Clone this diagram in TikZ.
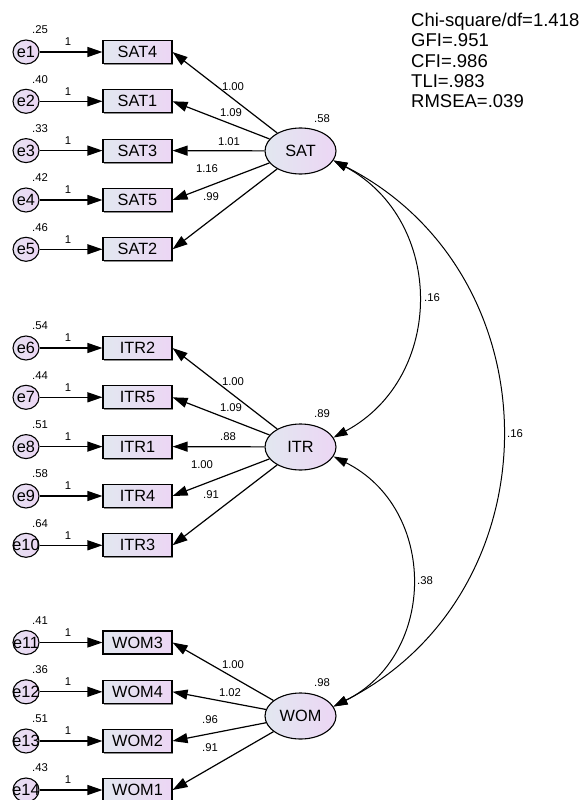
\documentclass[tikz,border=0pt]{standalone}
\usepackage{fontspec}
\setmainfont{Liberation Sans}
\usetikzlibrary{shapes.geometric,arrows.meta,shadows}
\definecolor{fillL}{RGB}{226,231,240}
\definecolor{fillR}{RGB}{236,214,244}
\tikzset{
  obs/.style={rectangle, draw=black, line width=1.1pt, minimum width=69pt, minimum height=23pt, inner sep=0pt,
    left color=fillL, right color=fillR, font=\fontsize{16.3}{18}\selectfont,
    drop shadow={shadow xshift=1.4pt, shadow yshift=-1.4pt, fill=black!45, opacity=1}},
  lat/.style={ellipse, draw=black, line width=1.1pt, minimum width=71pt, minimum height=46pt, inner sep=0pt,
    left color=fillL, right color=fillR, font=\fontsize{16.3}{18}\selectfont},
  err/.style={ellipse, draw=black, line width=1.1pt, minimum width=26pt, minimum height=24pt, inner sep=0pt,
    left color=fillL!60!fillR, right color=fillR},
  etxt/.style={font=\fontsize{16.3}{18}\selectfont, inner sep=0pt},
  num/.style={font=\fontsize{11.3}{13}\selectfont, inner sep=0pt},
  fit/.style={font=\fontsize{18.5}{20}\selectfont, inner sep=0pt, anchor=base west},
  patharrow/.style={line width=1.2pt, -{Triangle[length=15pt,width=10pt]}},
  covarrow/.style={line width=1pt, {Triangle[length=14pt,width=9pt]}-{Triangle[length=14pt,width=9pt]}},
}
\begin{document}
\begin{tikzpicture}[x=1pt,y=-1pt]
\useasboundingbox (0,0) rectangle (584,800);
% indicators with error terms
\foreach \i/\nm/\y/\v in {1/SAT4/52/.25, 2/SAT1/101.3/.40, 3/SAT3/150.6/.33, 4/SAT5/200/.42, 5/SAT2/249.3/.46,
  6/ITR2/348/.54, 7/ITR5/397.3/.44, 8/ITR1/446.6/.51, 9/ITR4/496/.58, 10/ITR3/545.3/.64,
  11/WOM3/642.5/.41, 12/WOM4/691.8/.36, 13/WOM2/741/.51, 14/WOM1/790/.43}{
  \node[err] (e\i) at (26,\y) {};
  \node[etxt] (et\i) at (e\i) {e\i};
  \node[obs] (\nm) at (137.5,\y) {\nm};
  \draw[patharrow] (e\i) -- (\nm);
  \node[num] (ev\i) at (40,\y-22) {\v};
  \node[num] (ew\i) at (68,\y-10) {1};
}
% latent variables
\node[lat] (SAT) at (300.5,151) {SAT};
\node[lat] (ITR) at (300.5,447) {ITR};
\node[lat] (WOM) at (300.5,716) {WOM};
\node[num] (vSAT) at (322,119) {.58};
\node[num] (vITR) at (322,414) {.89};
\node[num] (vWOM) at (322,683) {.98};
% loadings SAT
\draw[patharrow] (SAT) -- (SAT4.east);
\draw[patharrow] (SAT) -- (SAT1.east);
\draw[patharrow] (SAT) -- (SAT3.east);
\draw[patharrow] (SAT) -- (SAT5.east);
\draw[patharrow] (SAT) -- (SAT2.east);
\node[num] (ls1) at (233,87) {1.00};
\node[num] (ls2) at (231,113) {1.09};
\node[num] (ls3) at (229,142) {1.01};
\node[num] (ls4) at (207,169) {1.16};
\node[num] (ls5) at (211,197) {.99};
% loadings ITR
\draw[patharrow] (ITR) -- (ITR2.east);
\draw[patharrow] (ITR) -- (ITR5.east);
\draw[patharrow] (ITR) -- (ITR1.east);
\draw[patharrow] (ITR) -- (ITR4.east);
\draw[patharrow] (ITR) -- (ITR3.east);
\node[num] (li1) at (233,382) {1.00};
\node[num] (li2) at (231,408) {1.09};
\node[num] (li3) at (228,437) {.88};
\node[num] (li4) at (202,465) {1.00};
\node[num] (li5) at (211,495) {.91};
% loadings WOM
\draw[patharrow] (WOM) -- (WOM3.east);
\draw[patharrow] (WOM) -- (WOM4.east);
\draw[patharrow] (WOM) -- (WOM2.east);
\draw[patharrow] (WOM) -- (WOM1.east);
\node[num] (lw1) at (233,665) {1.00};
\node[num] (lw2) at (230,693) {1.02};
\node[num] (lw3) at (210,720) {.96};
\node[num] (lw4) at (210,748) {.91};
% covariances
\draw[covarrow] (SAT.-16) .. controls +(112,60) and +(112,-60) .. (ITR.16);
\draw[covarrow] (ITR.-16) .. controls +(104,52) and +(104,-52) .. (WOM.16);
\draw[covarrow] (SAT.-16) .. controls +(224,114) and +(224,-114) .. (WOM.16);
\node[num] (c1) at (432,298) {.16};
\node[num] (c2) at (425,581) {.38};
\node[num] (c3) at (515,434) {.16};
% fit indices
\node[fit] (f1) at (411,26.7) {Chi-square/df=1.418};
\node[fit] (f2) at (411,47) {GFI=.951};
\node[fit] (f3) at (411,67.3) {CFI=.986};
\node[fit] (f4) at (411,87.6) {TLI=.983};
\node[fit] (f5) at (411,107.9) {RMSEA=.039};
\end{tikzpicture}
\end{document}
